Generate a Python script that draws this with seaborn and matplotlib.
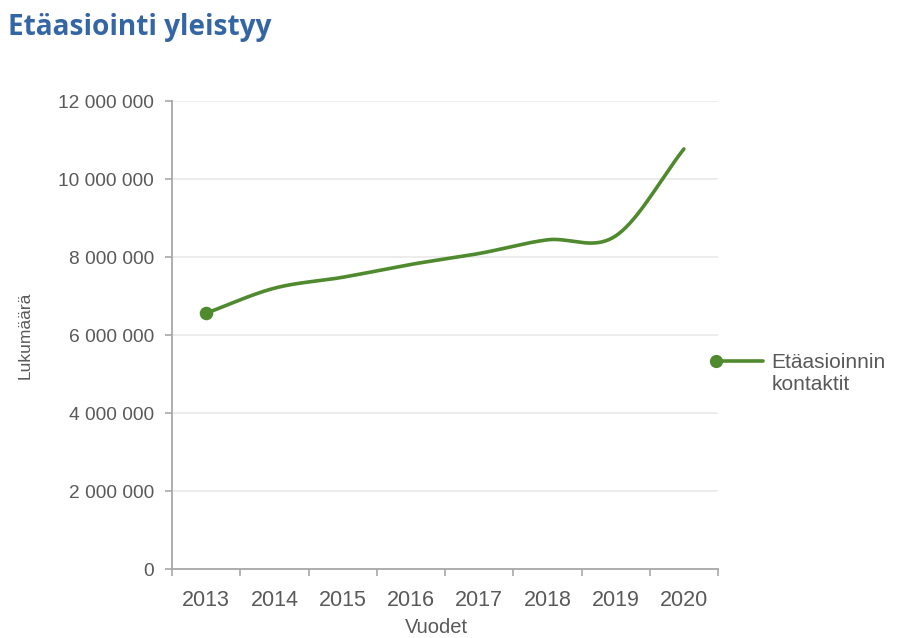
import numpy as np
import pandas as pd
import matplotlib
matplotlib.use("Agg")
import matplotlib.pyplot as plt
from matplotlib.ticker import FuncFormatter, FixedLocator
from matplotlib.legend_handler import HandlerLine2D
from matplotlib.lines import Line2D
import seaborn as sns

# ---- data ----
title = "Etäasiointi yleistyy"
years = ["2013", "2014", "2015", "2016", "2017", "2018", "2019", "2020"]
contacts = [6560000, 7200000, 7480000, 7810000, 8090000, 8440000, 8540000, 10770000]
series_name = "Etäasioinnin\nkontaktit"
x_label = "Vuodet"
y_label = "Lukumäärä"
y_ticks = [0, 2000000, 4000000, 6000000, 8000000, 10000000, 12000000]

sns.set_theme(style="white")
plt.rcParams["font.family"] = ["Liberation Sans", "DejaVu Sans"]

GREEN = "#4f8a2e"
TXT = "#595959"

fig = plt.figure(figsize=(9.08, 6.38), dpi=100)
ax = fig.add_axes([172/908, 1-569/638, (718-172)/908, (569-101)/638])

# Smooth the line like a spreadsheet "smoothed line" (Catmull-Rom through the data points)
xi = np.arange(len(years), dtype=float)
yv = np.asarray(contacts, dtype=float)
ext = np.concatenate([[2*yv[0]-yv[1]], yv, [2*yv[-1]-yv[-2]]])
sx, sy = [], []
for i in range(len(yv)-1):
    p0, p1, p2, p3 = ext[i], ext[i+1], ext[i+2], ext[i+3]
    m1 = (p2 - p0) / 2
    m2 = (p3 - p1) / 2
    t = np.linspace(0, 1, 40, endpoint=(i == len(yv)-2))
    h00 = 2*t**3 - 3*t**2 + 1
    h10 = t**3 - 2*t**2 + t
    h01 = -2*t**3 + 3*t**2
    h11 = t**3 - t**2
    sx.extend(xi[i] + t)
    sy.extend(h00*p1 + h10*m1 + h01*p2 + h11*m2)
smooth = pd.DataFrame({"x": sx, "y": sy})

sns.lineplot(data=smooth, x="x", y="y", ax=ax, color=GREEN, linewidth=2.6,
             sort=False, legend=False)
pts = pd.DataFrame({"x": xi[:1], "y": yv[:1]})
sns.scatterplot(data=pts, x="x", y="y", ax=ax, color=GREEN, s=95,
                edgecolor=GREEN, linewidth=0, legend=False, zorder=5)

ax.set_xlim(-0.5, len(years)-0.5)
ax.set_ylim(0, 12000000)
ax.set_xticks(xi)
ax.set_xticklabels(years)
ax.xaxis.set_minor_locator(FixedLocator(np.arange(-0.5, len(years), 1.0)))
ax.set_yticks(y_ticks)
ax.yaxis.set_major_formatter(FuncFormatter(lambda v, p: f"{v:,.0f}".replace(",", " ")))

ax.grid(axis="y", color="#e9e9e9", linewidth=1.2)
ax.grid(axis="x", visible=False)
ax.set_axisbelow(True)
for s in ["top", "right"]:
    ax.spines[s].set_visible(False)
for s in ["left", "bottom"]:
    ax.spines[s].set_color("#a8a8a8")
    ax.spines[s].set_linewidth(1.3)

ax.tick_params(axis="y", which="major", left=True, length=5, width=1.2, color="#a8a8a8",
               labelsize=13.8, labelcolor=TXT, pad=8)
ax.tick_params(axis="x", which="major", bottom=False, length=0, labelsize=15.5,
               labelcolor=TXT, pad=15)
ax.tick_params(axis="x", which="minor", bottom=True, length=5, width=1.2, color="#a8a8a8")

ax.set_xlabel(x_label, fontsize=14.5, color=TXT)
ax.set_ylabel(y_label, fontsize=12.5, color=TXT)
ax.xaxis.set_label_coords(0.485, -0.104)
ax.yaxis.set_label_coords(-0.255, 0.5)

fig.text(8/908, 1-28/638, title, fontsize=20.2, fontweight="bold", color="#3465a4",
         family=["Open Sans", "DejaVu Sans"], va="center", ha="left")

# legend: marker at the left end of the line sample, aligned with the first text line
class LeftMarkerHandler(HandlerLine2D):
    def create_artists(self, legend, orig_handle, xdescent, ydescent, width, height,
                       fontsize, trans):
        arts = super().create_artists(legend, orig_handle, xdescent, ydescent, width,
                                      height, fontsize, trans)
        for a in arts:
            yd = np.asarray(a.get_ydata(), dtype=float)
            a.set_ydata(yd + 9)
            if a.get_marker() not in (None, "None", "", " "):
                a.set_markevery([0])
        return arts

handle = Line2D([], [], color=GREEN, linewidth=2.6, marker="o", markersize=8.5)
leg = ax.legend([handle], [series_name], loc="center left",
                bbox_to_anchor=(0.985, 0.418), frameon=False, fontsize=15,
                numpoints=2, handlelength=2.85, handletextpad=0.1,
                borderaxespad=0, borderpad=0, labelspacing=0.2,
                handler_map={Line2D: LeftMarkerHandler()})
for t in leg.get_texts():
    t.set_color(TXT)
    t.set_linespacing(1.2)

fig.savefig("out.png", dpi=100)
